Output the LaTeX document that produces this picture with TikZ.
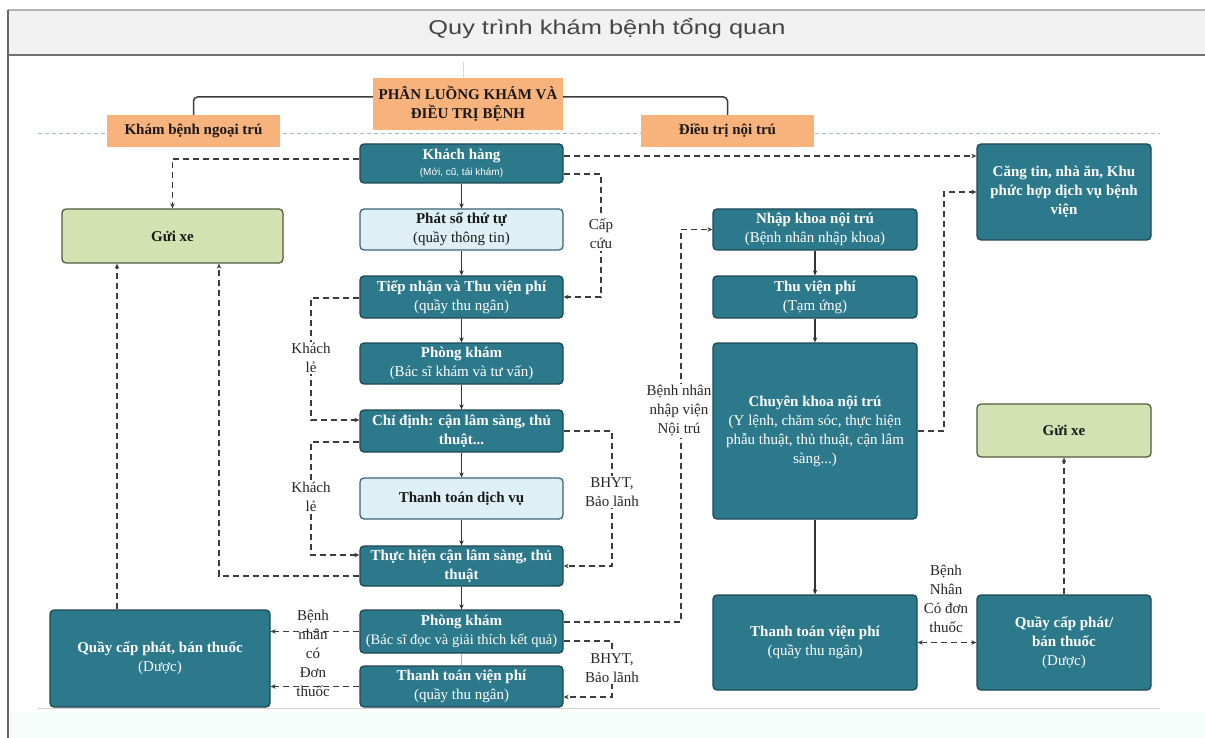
\documentclass[tikz,border=0pt]{standalone}
\usepackage{fontspec}
\usepackage{graphicx}
\setmainfont{Liberation Serif}
\newfontfamily\sansf{Liberation Sans}
\usetikzlibrary{arrows.meta,calc}
\definecolor{tealc}{RGB}{45,121,140}
\definecolor{bdr}{RGB}{30,72,84}
\definecolor{lblue}{RGB}{222,239,246}
\definecolor{lbdr}{RGB}{60,100,115}
\definecolor{greenc}{RGB}{212,226,178}
\definecolor{gbdr}{RGB}{80,92,62}
\definecolor{orangec}{RGB}{248,178,124}
\definecolor{titlec}{RGB}{70,70,70}
\definecolor{bandc}{RGB}{241,241,241}
\definecolor{linec}{RGB}{60,60,60}
\definecolor{bottomc}{RGB}{246,252,250}
\definecolor{guidec}{RGB}{165,185,195}
\newcommand\nfs{\fontsize{15}{19}\selectfont}
\tikzset{
  tbox/.style={draw=bdr, fill=tealc, rounded corners=4pt, line width=1.3pt, text=white,
    align=center, font=\nfs\bfseries, inner sep=2pt},
  lbox/.style={tbox, draw=lbdr, fill=lblue, text=black!90},
  gbox/.style={tbox, draw=gbdr, fill=greenc, text=black!90},
  obox/.style={fill=orangec, align=center, font=\nfs\bfseries, text=black!90, inner sep=2pt},
  ocon/.style={draw=linec, line width=1.5pt, rounded corners=4pt},
  dcon/.style={draw=linec, line width=1.3pt, dash pattern=on 6pt off 4pt,
    -{Stealth[length=5pt,width=4.5pt]}},
  ddcon/.style={dcon, {Stealth[length=5pt,width=4.5pt]}-{Stealth[length=5pt,width=4.5pt]}},
  scon/.style={draw=black!80, line width=1.1pt, -{Stealth[length=5pt,width=4.5pt]}},
  lab/.style={font=\nfs, text=black!85, align=center, inner sep=1.5pt},
  wlab/.style={lab, fill=white}
}
\begin{document}
\begin{tikzpicture}[x=1pt,y=-1pt]
\useasboundingbox (0,0) rectangle (1205,738);
\fill[white] (0,0) rectangle (1205,738);
% frame and title band
\fill[bottomc] (9,712) rectangle (1205,738);
\fill[bandc] (8,10) rectangle (1205,55);
\draw[black!30, line width=1.5pt] (8,10) -- (1205,10);
\draw[black!55, line width=2pt] (8,55) -- (1205,55);
\draw[black!60, line width=2.5pt] (8,10) -- (8,738);
\node[font=\sansf\fontsize{20}{22}\selectfont, text=titlec] (title) at (607,29)
  {\scalebox{1.27}[1]{Quy trình khám bệnh tổng quan}};
% guide lines
\draw[guidec, line width=0.8pt, dash pattern=on 4pt off 3pt] (38,133) -- (1160,133);
\draw[black!18, line width=0.8pt] (38,708) -- (1160,708);
\draw[black!15, line width=0.6pt] (463,62) -- (463,78);

% orange header boxes
\node[obox, minimum width=190pt, minimum height=52pt] (pl) at (468,104) {PHÂN LUỒNG KHÁM VÀ\\ĐIỀU TRỊ BỆNH};
\node[obox, minimum width=173pt, minimum height=32pt] (kbn) at (193.5,131) {Khám bệnh ngoại trú};
\node[obox, minimum width=173pt, minimum height=32pt] (dtn) at (727.5,131) {Điều trị nội trú};
\draw[ocon] ([yshift=7pt]pl.west) -| (kbn.north);
\draw[ocon] ([yshift=7pt]pl.east) -| (dtn.north);

% central column
\node[tbox, minimum width=203pt, minimum height=39pt] (kh) at (461.5,163.5)
  {Khách hàng\\[-3pt]\mdseries\sansf\fontsize{10}{12}\selectfont (Mới, cũ, tái khám)};
\node[lbox, minimum width=203pt, minimum height=41pt] (ps) at (461.5,229.5) {Phát số thứ tự\\\mdseries(quầy thông tin)};
\node[tbox, minimum width=203pt, minimum height=42pt] (tn) at (461.5,297) {Tiếp nhận và Thu viện phí\\\mdseries(quầy thu ngân)};
\node[tbox, minimum width=203pt, minimum height=41pt] (pk1) at (461.5,363.5) {Phòng khám\\\mdseries(Bác sĩ khám và tư vấn)};
\node[tbox, minimum width=203pt, minimum height=42pt] (cd) at (461.5,431) {Chỉ định: cận lâm sàng, thủ\\thuật...};
\node[lbox, minimum width=203pt, minimum height=41pt] (tt) at (461.5,498.5) {Thanh toán dịch vụ};
\node[tbox, minimum width=203pt, minimum height=40pt] (th) at (461.5,566) {Thực hiện cận lâm sàng, thủ\\thuật};
\node[tbox, minimum width=203pt, minimum height=43pt] (pk2) at (461.5,631.5) {Phòng khám\\\mdseries\fontsize{14.5}{19}\selectfont(Bác sĩ đọc và giải thích kết quả)};
\node[tbox, minimum width=203pt, minimum height=41pt] (ttv) at (461.5,686.5) {Thanh toán viện phí\\\mdseries(quầy thu ngân)};

% left column
\node[gbox, minimum width=221pt, minimum height=54pt] (gx1) at (172.5,236) {Gửi xe};
\node[tbox, minimum width=220pt, minimum height=97pt] (qc1) at (160,658.5) {Quầy cấp phát, bán thuốc\\\mdseries(Dược)};

% right column
\node[tbox, minimum width=204pt, minimum height=41pt] (nk) at (815,229.5) {Nhập khoa nội trú\\\mdseries(Bệnh nhân nhập khoa)};
\node[tbox, minimum width=204pt, minimum height=42pt] (tvp) at (815,297) {Thu viện phí\\\mdseries(Tạm ứng)};
\node[tbox, minimum width=204pt, minimum height=176pt] (ckn) at (815,431) {Chuyên khoa nội trú\\\mdseries(Y lệnh, chăm sóc, thực hiện\\\mdseries phẫu thuật, thủ thuật, cận lâm\\\mdseries sàng...)};
\node[tbox, minimum width=204pt, minimum height=95pt] (ttv2) at (815,642.5) {Thanh toán viện phí\\\mdseries(quầy thu ngân)};
\node[tbox, minimum width=174pt, minimum height=96pt] (ct) at (1064,192) {Căng tin, nhà ăn, Khu\\phức hợp dịch vụ bệnh\\viện};
\node[gbox, minimum width=174pt, minimum height=53pt] (gx2) at (1064,430.5) {Gửi xe};
\node[tbox, minimum width=174pt, minimum height=95pt] (qc2) at (1064,642.5) {Quầy cấp phát/\\bán thuốc\\\mdseries(Dược)};

% solid flow
\draw[scon] (kh) -- (ps);
\draw[scon] (ps) -- (tn);
\draw[scon] (tn) -- (pk1);
\draw[scon] (pk1) -- (cd);
\draw[scon] (cd) -- (tt);
\draw[scon] (tt) -- (th);
\draw[scon] (th) -- (pk2);
\draw[black!30, line width=0.8pt] (pk2) -- (ttv);
\draw[scon] (nk) -- (tvp);
\draw[scon] (tvp) -- (ckn);
\draw[scon] (ckn) -- (ttv2);

% dashed connectors
\coordinate (cc) at (601,234);
\coordinate (kl1) at (311,358);
\coordinate (kl2) at (311,497);
\coordinate (bh1) at (612,492);
\coordinate (bh2) at (612,668);
\coordinate (bn) at (681,411);
\coordinate (bnl) at (679,411);
\coordinate (ce) at (944,300);

\draw[dcon] ([yshift=4.5pt]kh.west) -| (gx1.north);
\draw[dcon] ([yshift=7.5pt]kh.east) -- ([yshift=36pt]ct.west);
\draw[dcon] ([yshift=-10.5pt]kh.east) -| (cc) |- (tn.east);
\draw[dcon] ([yshift=-1pt]tn.west) -| (kl1) |- ([yshift=11pt]cd.west);
\draw[dcon] ([yshift=-11pt]cd.west) -| (kl2) |- ([yshift=11pt]th.west);
\draw[dcon] (cd.east) -| (bh1) |- (th.east);
\draw[dcon] ([yshift=-10pt]th.west) -| ([xshift=46.5pt]gx1.south);
\draw[dcon] ([xshift=-43pt]qc1.north) -- ([xshift=-55.5pt]gx1.south);
\draw[dcon] (pk2.west) -- (pk2.west -| qc1.east);
\draw[dcon] (ttv.west) -- (ttv.west -| qc1.east);
\draw[dcon] ([yshift=9.5pt]pk2.east) -| (bn) |- (nk.west);
\draw[dcon] ([yshift=-9.5pt]pk2.east) -| (bh2) |- ([yshift=-10.5pt]ttv.east);
\draw[dcon] (ckn.east) -| (ce) |- (ct.west);
\draw[dcon] (qc2.north) -- (gx2.south);
\draw[ddcon] (ttv2.east) -- (qc2.west);

% labels
\node[wlab] (lcc) at (cc) {Cấp\\cứu};
\node[wlab] (lkl1) at (kl1) {Khách\\lẻ};
\node[wlab] (lkl2) at (kl2) {Khách\\lẻ};
\node[wlab] (lbh1) at (bh1) {BHYT,\\Bảo lãnh};
\node[wlab] (lbh2) at (bh2) {BHYT,\\Bảo lãnh};
\node[wlab, inner xsep=0pt] (lbn) at (bnl) {Bệnh nhân\\nhập viện\\Nội trú};
\node[lab] (ldt) at (313,653) {Bệnh\\nhân\\có\\Đơn\\thuốc};
\node[lab] (ldt2) at (946,599) {Bệnh\\Nhân\\Có đơn\\thuốc};
\end{tikzpicture}
\end{document}
